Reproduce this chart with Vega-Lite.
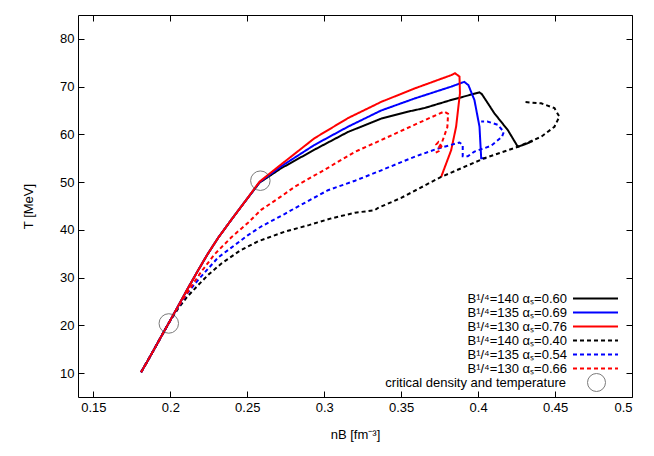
{
  "$schema": "https://vega.github.io/schema/vega-lite/v6.json",
  "width": 554,
  "height": 382,
  "autosize": {"type": "none"},
  "padding": {"left": 78, "top": 15, "right": 22, "bottom": 59},
  "background": "white",
  "config": {
    "font": "Liberation Sans",
    "view": {"stroke": "black", "strokeWidth": 1},
    "axis": {"grid": false, "domain": false, "tickColor": "black", "tickSize": -6, "labelColor": "black", "labelFontSize": 13, "labelFont": "Liberation Sans", "titleFont": "Liberation Sans", "titleFontSize": 13, "titleFontWeight": "normal", "titleColor": "black", "labelPadding": 10},
    "legend": {"labelFont": "Liberation Sans", "labelFontSize": 13, "labelColor": "black"}
  },
  "datasets": {
    "curves": [
      {"series": "B¹/⁴=140  αₛ=0.60", "i": 1, "x": 0.181, "y": 10.2},
      {"series": "B¹/⁴=140  αₛ=0.60", "i": 2, "x": 0.186, "y": 13.0},
      {"series": "B¹/⁴=140  αₛ=0.60", "i": 3, "x": 0.19, "y": 15.3},
      {"series": "B¹/⁴=140  αₛ=0.60", "i": 4, "x": 0.195, "y": 18.2},
      {"series": "B¹/⁴=140  αₛ=0.60", "i": 5, "x": 0.199, "y": 20.5},
      {"series": "B¹/⁴=140  αₛ=0.60", "i": 6, "x": 0.205, "y": 24.0},
      {"series": "B¹/⁴=140  αₛ=0.60", "i": 7, "x": 0.212, "y": 28.1},
      {"series": "B¹/⁴=140  αₛ=0.60", "i": 8, "x": 0.218, "y": 31.5},
      {"series": "B¹/⁴=140  αₛ=0.60", "i": 9, "x": 0.224, "y": 34.8},
      {"series": "B¹/⁴=140  αₛ=0.60", "i": 10, "x": 0.231, "y": 38.3},
      {"series": "B¹/⁴=140  αₛ=0.60", "i": 11, "x": 0.2396, "y": 42.1},
      {"series": "B¹/⁴=140  αₛ=0.60", "i": 12, "x": 0.248, "y": 45.7},
      {"series": "B¹/⁴=140  αₛ=0.60", "i": 13, "x": 0.258, "y": 49.9},
      {"series": "B¹/⁴=140  αₛ=0.60", "i": 14, "x": 0.272, "y": 52.9},
      {"series": "B¹/⁴=140  αₛ=0.60", "i": 15, "x": 0.2937, "y": 56.8},
      {"series": "B¹/⁴=140  αₛ=0.60", "i": 16, "x": 0.3154, "y": 60.5},
      {"series": "B¹/⁴=140  αₛ=0.60", "i": 17, "x": 0.337, "y": 63.3},
      {"series": "B¹/⁴=140  αₛ=0.60", "i": 18, "x": 0.355, "y": 64.8},
      {"series": "B¹/⁴=140  αₛ=0.60", "i": 19, "x": 0.365, "y": 65.5},
      {"series": "B¹/⁴=140  αₛ=0.60", "i": 20, "x": 0.3825, "y": 67.2},
      {"series": "B¹/⁴=140  αₛ=0.60", "i": 21, "x": 0.4009, "y": 68.8},
      {"series": "B¹/⁴=140  αₛ=0.60", "i": 22, "x": 0.4025, "y": 68.4},
      {"series": "B¹/⁴=140  αₛ=0.60", "i": 23, "x": 0.4106, "y": 64.4},
      {"series": "B¹/⁴=140  αₛ=0.60", "i": 24, "x": 0.4193, "y": 60.9},
      {"series": "B¹/⁴=140  αₛ=0.60", "i": 25, "x": 0.4258, "y": 57.4},
      {"series": "B¹/⁴=140  αₛ=0.60", "i": 26, "x": 0.431, "y": 58.0},
      {"series": "B¹/⁴=140  αₛ=0.60", "i": 27, "x": 0.4355, "y": 58.6},

      {"series": "B¹/⁴=135  αₛ=0.69", "i": 1, "x": 0.181, "y": 10.2},
      {"series": "B¹/⁴=135  αₛ=0.69", "i": 2, "x": 0.186, "y": 13.0},
      {"series": "B¹/⁴=135  αₛ=0.69", "i": 3, "x": 0.19, "y": 15.3},
      {"series": "B¹/⁴=135  αₛ=0.69", "i": 4, "x": 0.195, "y": 18.2},
      {"series": "B¹/⁴=135  αₛ=0.69", "i": 5, "x": 0.199, "y": 20.5},
      {"series": "B¹/⁴=135  αₛ=0.69", "i": 6, "x": 0.205, "y": 24.0},
      {"series": "B¹/⁴=135  αₛ=0.69", "i": 7, "x": 0.212, "y": 28.1},
      {"series": "B¹/⁴=135  αₛ=0.69", "i": 8, "x": 0.218, "y": 31.5},
      {"series": "B¹/⁴=135  αₛ=0.69", "i": 9, "x": 0.224, "y": 34.8},
      {"series": "B¹/⁴=135  αₛ=0.69", "i": 10, "x": 0.231, "y": 38.3},
      {"series": "B¹/⁴=135  αₛ=0.69", "i": 11, "x": 0.2396, "y": 42.1},
      {"series": "B¹/⁴=135  αₛ=0.69", "i": 12, "x": 0.248, "y": 45.7},
      {"series": "B¹/⁴=135  αₛ=0.69", "i": 13, "x": 0.258, "y": 50.0},
      {"series": "B¹/⁴=135  αₛ=0.69", "i": 14, "x": 0.272, "y": 53.3},
      {"series": "B¹/⁴=135  αₛ=0.69", "i": 15, "x": 0.2937, "y": 57.8},
      {"series": "B¹/⁴=135  αₛ=0.69", "i": 16, "x": 0.3154, "y": 61.6},
      {"series": "B¹/⁴=135  αₛ=0.69", "i": 17, "x": 0.337, "y": 65.0},
      {"series": "B¹/⁴=135  αₛ=0.69", "i": 18, "x": 0.3586, "y": 67.5},
      {"series": "B¹/⁴=135  αₛ=0.69", "i": 19, "x": 0.3825, "y": 70.0},
      {"series": "B¹/⁴=135  αₛ=0.69", "i": 20, "x": 0.391, "y": 71.0},
      {"series": "B¹/⁴=135  αₛ=0.69", "i": 21, "x": 0.3937, "y": 70.3},
      {"series": "B¹/⁴=135  αₛ=0.69", "i": 22, "x": 0.3976, "y": 67.2},
      {"series": "B¹/⁴=135  αₛ=0.69", "i": 23, "x": 0.4009, "y": 61.6},
      {"series": "B¹/⁴=135  αₛ=0.69", "i": 24, "x": 0.402, "y": 55.0},
      {"series": "B¹/⁴=135  αₛ=0.69", "i": 25, "x": 0.4052, "y": 55.0},

      {"series": "B¹/⁴=130  αₛ=0.76", "i": 1, "x": 0.181, "y": 10.2},
      {"series": "B¹/⁴=130  αₛ=0.76", "i": 2, "x": 0.186, "y": 13.0},
      {"series": "B¹/⁴=130  αₛ=0.76", "i": 3, "x": 0.19, "y": 15.3},
      {"series": "B¹/⁴=130  αₛ=0.76", "i": 4, "x": 0.195, "y": 18.2},
      {"series": "B¹/⁴=130  αₛ=0.76", "i": 5, "x": 0.199, "y": 20.5},
      {"series": "B¹/⁴=130  αₛ=0.76", "i": 6, "x": 0.205, "y": 24.0},
      {"series": "B¹/⁴=130  αₛ=0.76", "i": 7, "x": 0.212, "y": 28.1},
      {"series": "B¹/⁴=130  αₛ=0.76", "i": 8, "x": 0.218, "y": 31.5},
      {"series": "B¹/⁴=130  αₛ=0.76", "i": 9, "x": 0.224, "y": 34.8},
      {"series": "B¹/⁴=130  αₛ=0.76", "i": 10, "x": 0.231, "y": 38.3},
      {"series": "B¹/⁴=130  αₛ=0.76", "i": 11, "x": 0.2396, "y": 42.1},
      {"series": "B¹/⁴=130  αₛ=0.76", "i": 12, "x": 0.248, "y": 45.7},
      {"series": "B¹/⁴=130  αₛ=0.76", "i": 13, "x": 0.258, "y": 50.1},
      {"series": "B¹/⁴=130  αₛ=0.76", "i": 14, "x": 0.272, "y": 53.7},
      {"series": "B¹/⁴=130  αₛ=0.76", "i": 15, "x": 0.2937, "y": 59.2},
      {"series": "B¹/⁴=130  αₛ=0.76", "i": 16, "x": 0.3154, "y": 63.4},
      {"series": "B¹/⁴=130  αₛ=0.76", "i": 17, "x": 0.337, "y": 66.8},
      {"series": "B¹/⁴=130  αₛ=0.76", "i": 18, "x": 0.3586, "y": 69.6},
      {"series": "B¹/⁴=130  αₛ=0.76", "i": 19, "x": 0.3825, "y": 72.4},
      {"series": "B¹/⁴=130  αₛ=0.76", "i": 20, "x": 0.385, "y": 72.8},
      {"series": "B¹/⁴=130  αₛ=0.76", "i": 21, "x": 0.3879, "y": 72.1},
      {"series": "B¹/⁴=130  αₛ=0.76", "i": 22, "x": 0.3882, "y": 68.6},
      {"series": "B¹/⁴=130  αₛ=0.76", "i": 23, "x": 0.3857, "y": 61.6},
      {"series": "B¹/⁴=130  αₛ=0.76", "i": 24, "x": 0.3825, "y": 56.7},
      {"series": "B¹/⁴=130  αₛ=0.76", "i": 25, "x": 0.376, "y": 51.1},

      {"series": "B¹/⁴=140 αₛ=0.40", "i": 1, "x": 0.181, "y": 10.2},
      {"series": "B¹/⁴=140 αₛ=0.40", "i": 2, "x": 0.186, "y": 13.0},
      {"series": "B¹/⁴=140 αₛ=0.40", "i": 3, "x": 0.19, "y": 15.3},
      {"series": "B¹/⁴=140 αₛ=0.40", "i": 4, "x": 0.195, "y": 18.2},
      {"series": "B¹/⁴=140 αₛ=0.40", "i": 5, "x": 0.199, "y": 20.5},
      {"series": "B¹/⁴=140 αₛ=0.40", "i": 6, "x": 0.205, "y": 23.5},
      {"series": "B¹/⁴=140 αₛ=0.40", "i": 7, "x": 0.211, "y": 26.0},
      {"series": "B¹/⁴=140 αₛ=0.40", "i": 8, "x": 0.218, "y": 28.4},
      {"series": "B¹/⁴=140 αₛ=0.40", "i": 9, "x": 0.225, "y": 30.7},
      {"series": "B¹/⁴=140 αₛ=0.40", "i": 10, "x": 0.233, "y": 32.9},
      {"series": "B¹/⁴=140 αₛ=0.40", "i": 11, "x": 0.245, "y": 35.6},
      {"series": "B¹/⁴=140 αₛ=0.40", "i": 12, "x": 0.257, "y": 37.6},
      {"series": "B¹/⁴=140 αₛ=0.40", "i": 13, "x": 0.2742, "y": 39.6},
      {"series": "B¹/⁴=140 αₛ=0.40", "i": 14, "x": 0.29, "y": 41.0},
      {"series": "B¹/⁴=140 αₛ=0.40", "i": 15, "x": 0.3045, "y": 42.4},
      {"series": "B¹/⁴=140 αₛ=0.40", "i": 16, "x": 0.32, "y": 43.6},
      {"series": "B¹/⁴=140 αₛ=0.40", "i": 17, "x": 0.3327, "y": 44.1},
      {"series": "B¹/⁴=140 αₛ=0.40", "i": 18, "x": 0.335, "y": 44.6},
      {"series": "B¹/⁴=140 αₛ=0.40", "i": 19, "x": 0.35, "y": 46.7},
      {"series": "B¹/⁴=140 αₛ=0.40", "i": 20, "x": 0.376, "y": 51.1},
      {"series": "B¹/⁴=140 αₛ=0.40", "i": 21, "x": 0.389, "y": 52.9},
      {"series": "B¹/⁴=140 αₛ=0.40", "i": 22, "x": 0.4041, "y": 55.0},
      {"series": "B¹/⁴=140 αₛ=0.40", "i": 23, "x": 0.4258, "y": 57.4},
      {"series": "B¹/⁴=140 αₛ=0.40", "i": 24, "x": 0.441, "y": 59.5},
      {"series": "B¹/⁴=140 αₛ=0.40", "i": 25, "x": 0.4496, "y": 61.6},
      {"series": "B¹/⁴=140 αₛ=0.40", "i": 26, "x": 0.4528, "y": 63.7},
      {"series": "B¹/⁴=140 αₛ=0.40", "i": 27, "x": 0.4496, "y": 65.5},
      {"series": "B¹/⁴=140 αₛ=0.40", "i": 28, "x": 0.441, "y": 66.5},
      {"series": "B¹/⁴=140 αₛ=0.40", "i": 29, "x": 0.4292, "y": 66.8},

      {"series": "B¹/⁴=135 αₛ=0.54", "i": 1, "x": 0.181, "y": 10.2},
      {"series": "B¹/⁴=135 αₛ=0.54", "i": 2, "x": 0.186, "y": 13.0},
      {"series": "B¹/⁴=135 αₛ=0.54", "i": 3, "x": 0.19, "y": 15.3},
      {"series": "B¹/⁴=135 αₛ=0.54", "i": 4, "x": 0.195, "y": 18.2},
      {"series": "B¹/⁴=135 αₛ=0.54", "i": 5, "x": 0.199, "y": 20.5},
      {"series": "B¹/⁴=135 αₛ=0.54", "i": 6, "x": 0.205, "y": 23.8},
      {"series": "B¹/⁴=135 αₛ=0.54", "i": 7, "x": 0.211, "y": 26.7},
      {"series": "B¹/⁴=135 αₛ=0.54", "i": 8, "x": 0.218, "y": 29.5},
      {"series": "B¹/⁴=135 αₛ=0.54", "i": 9, "x": 0.231, "y": 34.2},
      {"series": "B¹/⁴=135 αₛ=0.54", "i": 10, "x": 0.2505, "y": 38.9},
      {"series": "B¹/⁴=135 αₛ=0.54", "i": 11, "x": 0.259, "y": 40.7},
      {"series": "B¹/⁴=135 αₛ=0.54", "i": 12, "x": 0.2742, "y": 43.3},
      {"series": "B¹/⁴=135 αₛ=0.54", "i": 13, "x": 0.2807, "y": 44.5},
      {"series": "B¹/⁴=135 αₛ=0.54", "i": 14, "x": 0.3024, "y": 48.3},
      {"series": "B¹/⁴=135 αₛ=0.54", "i": 15, "x": 0.32, "y": 50.3},
      {"series": "B¹/⁴=135 αₛ=0.54", "i": 16, "x": 0.335, "y": 52.2},
      {"series": "B¹/⁴=135 αₛ=0.54", "i": 17, "x": 0.3586, "y": 55.3},
      {"series": "B¹/⁴=135 αₛ=0.54", "i": 18, "x": 0.3727, "y": 56.9},
      {"series": "B¹/⁴=135 αₛ=0.54", "i": 19, "x": 0.3879, "y": 58.3},
      {"series": "B¹/⁴=135 αₛ=0.54", "i": 20, "x": 0.39, "y": 57.8},
      {"series": "B¹/⁴=135 αₛ=0.54", "i": 21, "x": 0.39, "y": 55.4},
      {"series": "B¹/⁴=135 αₛ=0.54", "i": 22, "x": 0.3933, "y": 55.4},
      {"series": "B¹/⁴=135 αₛ=0.54", "i": 23, "x": 0.3976, "y": 56.4},
      {"series": "B¹/⁴=135 αₛ=0.54", "i": 24, "x": 0.4084, "y": 57.6},
      {"series": "B¹/⁴=135 αₛ=0.54", "i": 25, "x": 0.4155, "y": 59.5},
      {"series": "B¹/⁴=135 αₛ=0.54", "i": 26, "x": 0.4167, "y": 60.5},
      {"series": "B¹/⁴=135 αₛ=0.54", "i": 27, "x": 0.4128, "y": 62.0},
      {"series": "B¹/⁴=135 αₛ=0.54", "i": 28, "x": 0.406, "y": 62.7},
      {"series": "B¹/⁴=135 αₛ=0.54", "i": 29, "x": 0.402, "y": 62.7},

      {"series": "B¹/⁴=130 αₛ=0.66", "i": 1, "x": 0.181, "y": 10.2},
      {"series": "B¹/⁴=130 αₛ=0.66", "i": 2, "x": 0.186, "y": 13.0},
      {"series": "B¹/⁴=130 αₛ=0.66", "i": 3, "x": 0.19, "y": 15.3},
      {"series": "B¹/⁴=130 αₛ=0.66", "i": 4, "x": 0.195, "y": 18.2},
      {"series": "B¹/⁴=130 αₛ=0.66", "i": 5, "x": 0.199, "y": 20.5},
      {"series": "B¹/⁴=130 αₛ=0.66", "i": 6, "x": 0.205, "y": 23.9},
      {"series": "B¹/⁴=130 αₛ=0.66", "i": 7, "x": 0.2125, "y": 27.6},
      {"series": "B¹/⁴=130 αₛ=0.66", "i": 8, "x": 0.22, "y": 31.2},
      {"series": "B¹/⁴=130 αₛ=0.66", "i": 9, "x": 0.2288, "y": 34.9},
      {"series": "B¹/⁴=130 αₛ=0.66", "i": 10, "x": 0.2395, "y": 38.4},
      {"series": "B¹/⁴=130 αₛ=0.66", "i": 11, "x": 0.2505, "y": 41.5},
      {"series": "B¹/⁴=130 αₛ=0.66", "i": 12, "x": 0.259, "y": 44.2},
      {"series": "B¹/⁴=130 αₛ=0.66", "i": 13, "x": 0.272, "y": 47.0},
      {"series": "B¹/⁴=130 αₛ=0.66", "i": 14, "x": 0.2807, "y": 49.0},
      {"series": "B¹/⁴=130 αₛ=0.66", "i": 15, "x": 0.3024, "y": 53.0},
      {"series": "B¹/⁴=130 αₛ=0.66", "i": 16, "x": 0.3197, "y": 56.3},
      {"series": "B¹/⁴=130 αₛ=0.66", "i": 17, "x": 0.337, "y": 58.8},
      {"series": "B¹/⁴=130 αₛ=0.66", "i": 18, "x": 0.3586, "y": 62.0},
      {"series": "B¹/⁴=130 αₛ=0.66", "i": 19, "x": 0.378, "y": 64.8},
      {"series": "B¹/⁴=130 αₛ=0.66", "i": 20, "x": 0.3805, "y": 64.3},
      {"series": "B¹/⁴=130 αₛ=0.66", "i": 21, "x": 0.38, "y": 61.5},
      {"series": "B¹/⁴=130 αₛ=0.66", "i": 22, "x": 0.3765, "y": 58.3},
      {"series": "B¹/⁴=130 αₛ=0.66", "i": 23, "x": 0.3745, "y": 57.3},
      {"series": "B¹/⁴=130 αₛ=0.66", "i": 24, "x": 0.3728, "y": 57.9},
      {"series": "B¹/⁴=130 αₛ=0.66", "i": 25, "x": 0.3742, "y": 58.4},
      {"series": "B¹/⁴=130 αₛ=0.66", "i": 26, "x": 0.3762, "y": 57.5},
      {"series": "B¹/⁴=130 αₛ=0.66", "i": 27, "x": 0.3745, "y": 56.5},
      {"series": "B¹/⁴=130 αₛ=0.66", "i": 28, "x": 0.3715, "y": 56.0}
    ],
    "crit": [
      {"label": "critical density and temperature", "x": 0.199, "y": 20.4},
      {"label": "critical density and temperature", "x": 0.2585, "y": 50.3}
    ]
  },
  "layer": [
    {
      "data": {"name": "curves"},
      "mark": {"type": "line", "strokeWidth": 2, "clip": true},
      "encoding": {
        "x": {"field": "x", "type": "quantitative", "scale": {"domain": [0.14, 0.5], "nice": false, "zero": false},
              "axis": {"orient": "bottom", "values": [0.15, 0.2, 0.25, 0.3, 0.35, 0.4, 0.45, 0.5], "format": "~g", "title": "nB [fm⁻³]", "titlePadding": 14}},
        "y": {"field": "y", "type": "quantitative", "scale": {"domain": [5, 85], "nice": false, "zero": false},
              "axis": {"orient": "left", "values": [10, 20, 30, 40, 50, 60, 70, 80], "title": "T [MeV]", "titlePadding": 24}},
        "order": {"field": "i", "type": "quantitative"},
        "color": {"field": "series", "type": "nominal",
          "scale": {"domain": ["B¹/⁴=140  αₛ=0.60", "B¹/⁴=135  αₛ=0.69", "B¹/⁴=130  αₛ=0.76", "B¹/⁴=140 αₛ=0.40", "B¹/⁴=135 αₛ=0.54", "B¹/⁴=130 αₛ=0.66"],
                    "range": ["#000000", "#0000ff", "#ff0000", "#000000", "#0000ff", "#ff0000"]},
          "legend": {"title": null, "orient": "none", "legendX": 511, "legendY": 277, "symbolType": "M-4.5,0H4.5", "symbolSize": 100, "symbolStrokeWidth": 2, "rowPadding": 0, "labelAlign": "right", "labelOffset": -35, "padding": 0, "labelLimit": 300}},
        "strokeDash": {"field": "series", "type": "nominal",
          "scale": {"domain": ["B¹/⁴=140  αₛ=0.60", "B¹/⁴=135  αₛ=0.69", "B¹/⁴=130  αₛ=0.76", "B¹/⁴=140 αₛ=0.40", "B¹/⁴=135 αₛ=0.54", "B¹/⁴=130 αₛ=0.66"],
                    "range": [[1, 0], [1, 0], [1, 0], [4, 3], [4, 3], [4, 3]]}}
      }
    },
    {
      "data": {"name": "crit"},
      "mark": {"type": "point", "filled": false, "stroke": "#444444", "strokeWidth": 1, "size": 380},
      "encoding": {
        "x": {"field": "x", "type": "quantitative", "axis": {"orient": "top", "labels": false, "title": null, "values": [0.15, 0.2, 0.25, 0.3, 0.35, 0.4, 0.45, 0.5]}},
        "y": {"field": "y", "type": "quantitative", "axis": {"orient": "right", "labels": false, "title": null, "values": [10, 20, 30, 40, 50, 60, 70, 80]}},
        "shape": {"field": "label", "type": "nominal", "scale": {"range": ["circle"]},
          "legend": {"title": null, "orient": "none", "legendX": 509, "legendY": 358, "symbolSize": 324, "symbolStrokeColor": "#444444", "symbolStrokeWidth": 1, "labelAlign": "right", "labelOffset": -40, "padding": 0, "labelLimit": 300}}
      }
    }
  ],
  "resolve": {"axis": {"x": "independent", "y": "independent"}}
}
